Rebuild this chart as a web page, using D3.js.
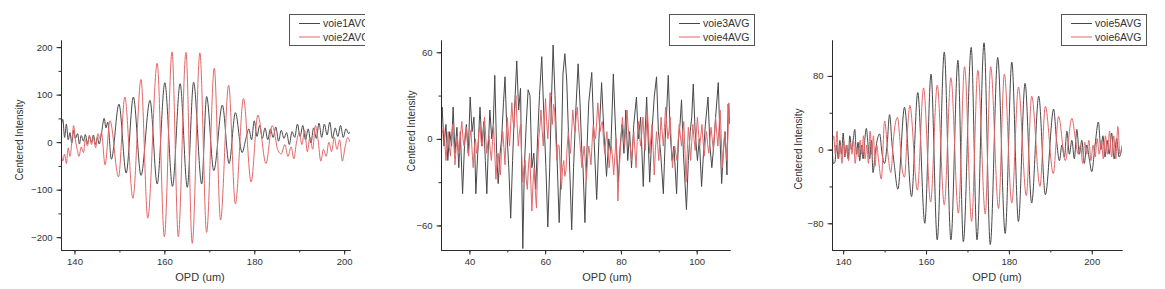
<!DOCTYPE html>
<html>
<head>
<meta charset="utf-8">
<script src="https://cdn.jsdelivr.net/npm/d3@7"></script>
<style>
  body { margin: 0; background: #fff; }
  svg { display: block; }
</style>
</head>
<body>
<svg id="chart" width="1165" height="289"></svg>
<script>
// ---- data: [OPD (um), centered intensity] ----
const voie1 = [[137.0,30],[137.4,48],[137.8,10],[138.2,38],[138.6,5],[139.0,20],[139.4,-2],[139.8,25],[140.2,8],[140.7,18],[141.1,-4],[141.5,14],[142.0,2],[142.4,16],[142.9,-3],[143.3,12],[143.8,0],[144.2,15],[144.7,-5],[145.1,10],[145.5,-4],[146.0,18],[146.6,50],[147.0,30],[147.4,42],[148.2,-36],[149.9,80],[151.5,-65],[153.1,95],[154.8,-70],[156.8,88],[158.4,-88],[160.1,125],[161.8,-93],[163.5,123],[165.1,-95],[166.5,126],[168.3,-88],[169.4,96],[171.0,-60],[172.9,78],[174.4,-45],[175.8,62],[177.3,-22],[178.2,10],[178.8,28],[179.4,5],[180.0,45],[180.6,12],[181.2,35],[181.8,8],[182.4,30],[183.0,5],[183.6,28],[184.2,10],[184.8,32],[185.4,2],[186.0,25],[186.6,8],[187.2,20],[187.8,-5],[188.4,22],[189.0,10],[189.6,38],[190.2,12],[190.8,35],[191.4,5],[192.0,28],[192.6,-2],[193.2,30],[193.8,8],[194.4,40],[195.0,10],[195.6,38],[196.2,15],[196.8,42],[197.4,8],[198.0,30],[198.6,12],[199.2,35],[199.8,10],[200.4,28],[201.0,18],[201.3,22]];
const voie2 = [[137.0,-15],[137.4,-40],[137.8,-25],[138.2,-45],[138.6,-12],[139.0,-30],[139.5,10],[139.8,35],[140.2,5],[140.6,-15],[141.0,-30],[141.5,-10],[142.0,-22],[142.4,5],[142.9,-8],[143.3,15],[143.8,-5],[144.2,10],[144.7,-12],[145.2,18],[145.6,8],[146.0,20],[146.8,-48],[147.9,45],[149.8,-73],[151.2,95],[153.0,-118],[154.8,132],[156.3,-160],[158.4,166],[160.0,-199],[161.7,190],[163.1,-199],[164.8,189],[166.2,-213],[167.9,188],[169.4,-190],[171.1,156],[172.5,-164],[174.3,120],[175.8,-130],[177.6,92],[179.3,-84],[180.8,57],[182.6,-45],[184.0,35],[185.3,-18],[186.0,-25],[186.8,-5],[187.5,-30],[188.2,-10],[188.8,-35],[189.4,0],[190.0,20],[190.6,-5],[191.2,25],[191.8,-20],[192.4,10],[193.0,-15],[193.6,35],[194.2,5],[194.8,-40],[195.4,-15],[196.0,-30],[196.6,0],[197.2,-20],[197.8,10],[198.4,-15],[199.0,5],[199.6,-40],[200.2,-10],[200.8,10],[201.3,0]];

const voie3 = [[32.5,5],[32.8,22],[33.3,-5],[33.8,10],[34.3,-15],[34.8,5],[35.3,-5],[35.7,22],[36.2,-10],[36.7,8],[37.2,-20],[37.6,5],[38.2,-38],[38.7,-5],[39.2,10],[39.7,-10],[40.2,29],[40.7,5],[41.2,15],[41.7,-38],[42.2,-10],[42.8,22],[43.3,-5],[43.8,12],[44.2,-15],[44.6,-38],[45.0,-5],[45.4,20],[45.9,0],[46.3,10],[46.7,44],[47.2,-10],[47.6,-31],[48.1,-10],[48.5,0],[49.0,25],[49.4,43],[49.9,5],[50.4,-20],[50.9,-55],[51.4,-15],[51.9,20],[52.5,54],[53.0,20],[53.5,35],[54.1,-76],[54.5,-20],[55.0,10],[55.5,34],[56.0,30],[56.5,-20],[57.0,-10],[57.5,-35],[58.0,0],[58.5,30],[59.1,57],[59.6,20],[60.2,-20],[60.7,-61],[61.2,-20],[61.7,30],[62.1,65],[62.6,30],[63.1,-10],[63.7,-58],[64.2,-20],[64.7,45],[65.2,59],[65.7,40],[66.2,0],[66.6,-30],[67.0,-63],[67.5,-20],[68.1,20],[68.7,52],[69.2,25],[69.7,-10],[70.0,-20],[70.5,-58],[71.0,-10],[71.5,25],[72.3,46],[72.9,0],[73.6,-42],[74.2,0],[74.9,39],[75.5,5],[76.2,-26],[76.8,0],[77.3,-10],[78.0,45],[78.6,5],[79.3,-30],[79.8,-5],[80.3,10],[80.8,-10],[81.3,20],[81.8,-15],[82.3,5],[82.8,-20],[83.4,10],[84.1,29],[84.6,0],[85.2,15],[85.9,-33],[86.4,5],[86.8,29],[87.6,-30],[88.2,5],[88.8,29],[89.4,43],[89.9,5],[90.5,-10],[91.2,-38],[91.7,0],[92.1,20],[92.5,44],[93.0,5],[93.5,-15],[94.0,-5],[94.7,-38],[95.2,0],[95.6,10],[96.0,27],[96.5,-10],[97.3,-49],[97.8,-15],[98.3,5],[98.7,15],[99.1,38],[99.6,5],[100.2,-15],[100.7,0],[101.3,-33],[101.8,-10],[102.3,10],[103.0,29],[103.5,-5],[104.0,-20],[104.5,-5],[105.0,15],[105.7,39],[106.1,5],[106.6,-31],[107.0,-10],[107.5,5],[108.0,-25],[108.3,24],[108.8,10]];
const voie4 = [[32.5,-5],[32.8,4],[33.2,8],[33.5,-2],[33.8,-15],[34.1,-4],[34.4,5],[34.7,-6],[35.0,-12],[35.3,2],[35.6,10],[35.9,-4],[36.2,-18],[36.5,-6],[36.8,2],[37.1,-8],[37.4,-10],[37.7,4],[38.0,12],[38.3,0],[38.6,-5],[38.9,4],[39.2,8],[39.5,-4],[39.8,-12],[40.1,0],[40.4,6],[40.7,-8],[41.0,-20],[41.3,-6],[41.6,0],[41.9,-10],[42.2,-8],[42.5,4],[42.8,10],[43.1,-2],[43.4,-5],[43.7,6],[44.0,15],[44.3,2],[44.6,-10],[44.9,-2],[45.2,2],[45.5,-8],[45.8,-15],[46.1,-2],[46.4,8],[46.7,-10],[47.0,-28],[47.3,-14],[47.6,-10],[47.9,-20],[48.2,-25],[48.5,-6],[48.8,5],[49.1,-6],[49.4,-18],[49.7,2],[50.0,15],[50.3,4],[50.6,-5],[50.9,10],[51.2,25],[51.5,12],[51.8,8],[52.0,20],[52.3,30],[52.6,10],[52.9,-5],[53.2,4],[53.5,10],[53.8,-12],[54.1,-30],[54.4,-20],[54.7,-15],[55.0,-28],[55.3,-35],[55.6,-18],[55.9,-10],[56.2,-30],[56.5,-50],[56.8,-30],[57.1,-20],[57.4,-36],[57.7,-48],[58.0,-20],[58.3,0],[58.6,8],[58.9,20],[59.2,6],[59.5,-5],[59.8,12],[60.1,28],[60.4,12],[60.7,0],[61.0,14],[61.3,32],[61.6,18],[61.9,10],[62.2,24],[62.5,20],[62.8,0],[63.1,-15],[63.4,-4],[63.7,-5],[64.0,-22],[64.3,-35],[64.6,-20],[64.9,-15],[65.2,-26],[65.5,-22],[65.8,-6],[66.1,5],[66.4,-4],[66.7,-10],[67.0,6],[67.3,20],[67.6,10],[67.9,5],[68.2,16],[68.5,22],[68.8,8],[69.1,0],[69.4,-10],[69.7,-20],[70.0,-12],[70.3,-5],[70.6,-16],[70.9,-28],[71.2,-14],[71.5,-5],[71.8,-10],[72.1,-18],[72.4,-2],[72.7,10],[73.0,4],[73.3,0],[73.6,12],[73.9,25],[74.2,14],[74.5,5],[74.8,10],[75.1,12],[75.4,0],[75.7,-10],[76.0,-2],[76.3,5],[76.6,-8],[76.9,-20],[77.2,-10],[77.5,-5],[77.8,-14],[78.1,-25],[78.4,-12],[78.7,0],[79.0,-20],[79.2,-43],[79.5,-24],[79.8,-10],[80.1,4],[80.4,15],[80.7,4],[81.0,-5],[81.3,8],[81.6,20],[81.9,8],[82.2,0],[82.5,-6],[82.8,-15],[83.1,-4],[83.4,5],[83.7,-8],[84.0,-20],[84.3,-2],[84.6,12],[84.9,2],[85.2,-5],[85.5,4],[85.8,15],[86.1,2],[86.4,-8],[86.7,6],[87.0,20],[87.3,4],[87.6,-10],[87.9,0],[88.2,10],[88.5,-6],[88.8,-25],[89.1,-8],[89.4,5],[89.7,-4],[90.0,-15],[90.3,0],[90.6,15],[90.9,4],[91.2,-5],[91.5,8],[91.8,22],[92.1,10],[92.4,0],[92.7,6],[93.0,15],[93.3,-2],[93.6,-20],[93.9,-10],[94.2,-5],[94.5,-10],[94.8,-15],[95.1,-2],[95.4,10],[95.7,2],[96.0,-5],[96.3,4],[96.6,12],[96.9,-8],[97.2,-30],[97.5,-10],[97.8,8],[98.1,-2],[98.4,-15],[98.7,-2],[99.0,10],[99.3,0],[99.6,-8],[99.9,4],[100.2,15],[100.5,4],[100.8,-5],[101.1,2],[101.4,10],[101.7,-2],[102.0,-12],[102.3,-2],[102.6,5],[102.9,-4],[103.2,-10],[103.5,0],[103.8,8],[104.1,0],[104.4,-8],[104.7,4],[105.0,15],[105.3,4],[105.6,-5],[105.9,8],[106.2,20],[106.5,0],[106.8,-20],[107.1,-6],[107.4,5],[107.7,-4],[108.0,-15],[108.3,6],[108.5,25],[108.8,12]];

const voie5 = [[137.3,10],[137.6,-15],[138.0,-14],[138.4,5],[138.8,-10],[139.2,10],[139.6,-5],[140.0,18],[140.4,-8],[140.8,5],[141.2,-10],[141.6,15],[142.0,0],[142.4,10],[142.8,22],[143.2,-5],[143.6,8],[144.0,-12],[144.4,5],[144.8,-10],[145.2,10],[145.6,23],[146.0,5],[146.4,-10],[146.8,10],[147.2,-25],[147.7,-5],[148.2,10],[148.8,17],[149.4,-5],[150.0,-15],[150.6,5],[151.2,38],[151.8,5],[152.3,-15],[153.2,-43],[154.8,46],[156.5,-51],[158.0,62],[159.7,-80],[161.2,82],[162.7,-98],[164.4,106],[166.0,-98],[167.7,97],[169.0,-100],[170.9,111],[172.3,-98],[174.0,116],[175.5,-103],[177.3,100],[179.1,-91],[180.7,95],[182.3,-78],[183.9,72],[185.5,-58],[187.2,58],[188.8,-49],[190.8,44],[191.5,10],[192.2,-12],[192.8,5],[193.4,-8],[194.0,20],[194.6,-5],[195.2,10],[195.8,-10],[196.4,22],[197.0,-5],[197.6,10],[198.2,-15],[198.8,5],[199.4,-10],[200.0,-24],[200.8,5],[201.6,30],[202.2,0],[202.7,15],[203.2,-8],[203.7,10],[204.2,-5],[204.8,18],[205.4,-10],[206.0,12],[206.6,-8],[207.3,2]];
const voie6 = [[137.3,5],[137.7,15],[138.1,-5],[138.5,20],[138.9,-10],[139.3,5],[139.7,-15],[140.1,10],[140.5,-8],[140.9,5],[141.3,-12],[141.7,8],[142.1,-5],[142.5,10],[142.9,-15],[143.3,2],[143.7,-8],[144.1,10],[144.5,-5],[144.9,15],[145.3,-10],[145.7,5],[146.1,-15],[146.5,20],[146.9,-5],[147.3,15],[147.7,-18],[148.1,5],[148.5,-10],[149.2,-32],[150.0,31],[150.8,-5],[151.5,-25],[152.2,15],[153.1,35],[153.7,10],[154.2,-20],[154.8,-30],[155.5,20],[156.1,48],[157.9,-44],[159.4,67],[161.1,-57],[162.7,70],[164.4,-60],[166.0,78],[167.8,-69],[169.3,90],[171.0,-78],[172.5,86],[174.3,-70],[175.6,90],[177.5,-64],[178.9,82],[180.7,-58],[182.3,68],[184.2,-50],[185.5,58],[187.5,-40],[188.8,47],[190.7,-26],[192.0,36],[193.6,-12],[195.2,34],[196.1,10],[196.7,-5],[197.3,5],[197.8,-15],[198.3,8],[198.8,-5],[199.3,10],[199.8,-12],[200.3,5],[200.8,-8],[201.3,12],[201.8,-5],[202.3,10],[202.8,-10],[203.3,15],[203.8,-5],[204.3,20],[204.8,-8],[205.3,15],[205.8,-10],[206.3,25],[206.8,-5],[207.3,5]];

const seriesNames = [["voie1AVG", "voie2AVG"], ["voie3AVG", "voie4AVG"], ["voie5AVG", "voie6AVG"]];
const xTickLabels = [[140, 160, 180, 200], [40, 60, 80, 100], [140, 160, 180, 200]];
const yTickLabels = [[-200, -100, 0, 100, 200], [-60, 0, 60], [-80, 0, 80]];

// ---- layout of each panel (axis ranges + pixel box) ----
const panels = [
  { data: [voie1, voie2], names: seriesNames[0], xTicks: xTickLabels[0], yTicks: yTickLabels[0],
    xDom: [137, 201.3], yDom: [-227, 215], xStep: 10, yStep: 50, curve: d3.curveMonotoneX,
    left: 61, right: 350, top: 40, bottom: 250, clipRight: 365,
    legendX: 289, yLabelX: 19, yLabelY: 140, xLabelX: 200 },
  { data: [voie3, voie4], names: seriesNames[1], xTicks: xTickLabels[1], yTicks: yTickLabels[1],
    xDom: [32.5, 108.8], yDom: [-77, 68.5], xStep: 10, yStep: 30, curve: d3.curveLinear,
    left: 441, right: 730, top: 40, bottom: 250, clipRight: 760,
    legendX: 669, yLabelX: 411, yLabelY: 131, xLabelX: 607 },
  { data: [voie5, voie6], names: seriesNames[2], xTicks: xTickLabels[2], yTicks: yTickLabels[2],
    xDom: [137.3, 207.3], yDom: [-109, 119], xStep: 10, yStep: 40, curve: d3.curveMonotoneX,
    left: 832, right: 1122, top: 40, bottom: 250, clipRight: 1165,
    legendX: 1061, yLabelX: 798, yLabelY: 149, xLabelX: 997 }
];

const lineColors = ["#484848", "#e4676a"];
const font = "'Liberation Sans', Arial, sans-serif";

const svg = d3.select("#chart");

function minorTicks(dom, step) {
  const out = [];
  for (let v = Math.ceil(dom[0] / step) * step; v <= dom[1]; v += step) out.push(v);
  return out;
}

function drawPanel(p, i) {
  const x = d3.scaleLinear().domain(p.xDom).range([p.left, p.right]);
  const y = d3.scaleLinear().domain(p.yDom).range([p.bottom, p.top]);

  const clipId = "plot" + i, panelClip = "panel" + i;
  const defs = svg.append("defs");
  defs.append("clipPath").attr("id", clipId).append("rect")
    .attr("x", p.left).attr("y", p.top).attr("width", p.right - p.left).attr("height", p.bottom - p.top);
  defs.append("clipPath").attr("id", panelClip).append("rect")
    .attr("x", p.left - 70).attr("y", 0).attr("width", p.clipRight - p.left + 70).attr("height", 289);

  const g = svg.append("g").attr("clip-path", "url(#" + panelClip + ")");

  // traces
  const line = d3.line().x(d => x(d[0])).y(d => y(d[1])).curve(p.curve);
  g.append("g").attr("clip-path", "url(#" + clipId + ")")
    .selectAll("path").data(p.data).enter().append("path")
    .attr("d", line)
    .attr("fill", "none")
    .attr("stroke", (d, k) => lineColors[k])
    .attr("stroke-width", 1)
    .attr("stroke-linejoin", "round");

  // minor ticks, then major ticks with labels
  const xMinor = d3.axisBottom(x).tickValues(minorTicks(p.xDom, p.xStep)).tickSize(2.5).tickSizeOuter(0).tickFormat("");
  const yMinor = d3.axisLeft(y).tickValues(minorTicks(p.yDom, p.yStep)).tickSize(2.5).tickSizeOuter(0).tickFormat("");
  const xAxis = d3.axisBottom(x).tickValues(p.xTicks).tickSize(4.5).tickSizeOuter(0).tickPadding(4);
  const yAxis = d3.axisLeft(y).tickValues(p.yTicks).tickSize(4.5).tickSizeOuter(0).tickPadding(4);

  [[xMinor, "x"], [xAxis, "x"], [yMinor, "y"], [yAxis, "y"]].forEach(([ax, kind]) => {
    const a = g.append("g")
      .attr("transform", kind === "x" ? "translate(0," + p.bottom + ")" : "translate(" + p.left + ",0)")
      .call(ax);
    a.selectAll("path.domain").attr("stroke", "#2b2b2b").attr("stroke-width", 1);
    a.selectAll("line").attr("stroke", "#2b2b2b").attr("stroke-width", 1);
    a.selectAll("text").attr("font-family", font).attr("font-size", "9.5px").attr("fill", "#333");
  });

  // axis titles
  g.append("text")
    .attr("transform", "translate(" + p.yLabelX + "," + p.yLabelY + ") rotate(-90)")
    .attr("text-anchor", "middle").attr("dy", "0.35em")
    .attr("font-family", font).attr("font-size", "10px").attr("fill", "#333")
    .text("Centered Intensity");
  g.append("text")
    .attr("x", p.xLabelX).attr("y", 281)
    .attr("text-anchor", "middle")
    .attr("font-family", font).attr("font-size", "11px").attr("fill", "#333")
    .text("OPD (um)");

  // legend
  const lg = g.append("g").attr("transform", "translate(" + p.legendX + ",14)");
  lg.append("rect").attr("x", 0.5).attr("y", 0.5).attr("width", 85).attr("height", 31)
    .attr("fill", "#fff").attr("stroke", "#555").attr("stroke-width", 1);
  p.names.forEach((name, k) => {
    lg.append("line").attr("x1", 10).attr("x2", 31).attr("y1", 9.5 + k * 13.5).attr("y2", 9.5 + k * 13.5)
      .attr("stroke", lineColors[k]).attr("stroke-width", 1);
    lg.append("text").attr("x", 34).attr("y", 9.5 + k * 13.5).attr("dy", "0.35em")
      .attr("font-family", font).attr("font-size", "10.5px").attr("fill", "#333")
      .text(name);
  });
}

panels.forEach(drawPanel);
</script>
</body>
</html>
